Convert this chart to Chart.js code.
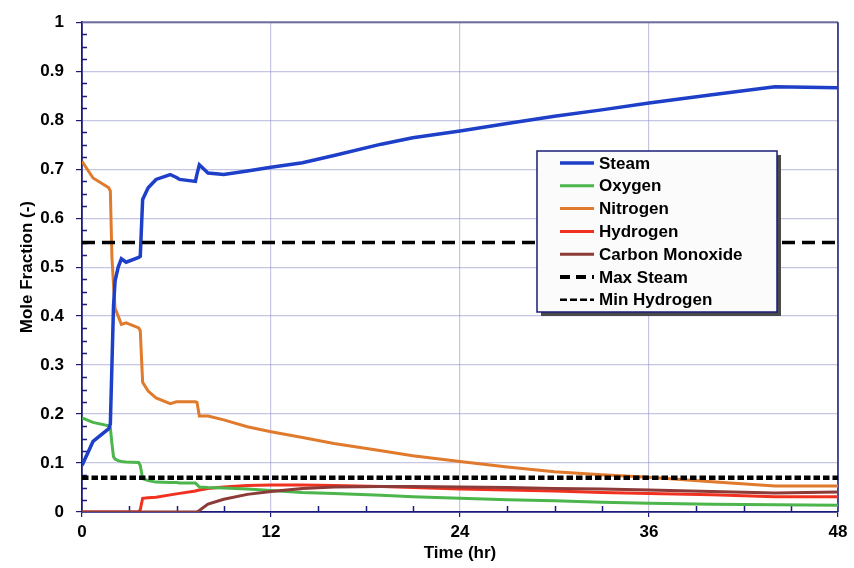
<!DOCTYPE html>
<html>
<head>
<meta charset="utf-8">
<script src="https://cdn.jsdelivr.net/npm/chart.js@4.4.1/dist/chart.umd.min.js"></script>
<style>
  html, body { margin: 0; padding: 0; background: #fff; }
</style>
</head>
<body>
<canvas id="moleChart" width="854" height="568"></canvas>
<script>
// shared time points (hr)
const timeHr = [0, 0.7, 1.7, 1.8, 1.9, 2.0, 2.1, 2.3, 2.5, 2.8, 3.6, 3.7, 3.85, 4.2, 4.7, 5.6, 6.0, 6.2,
  7.2, 7.3, 7.45, 8.0, 9.0, 10.5, 12, 14, 16, 19, 21, 24, 27, 30, 33, 36, 40, 44, 48];

// mole fractions
const steam = [0.095, 0.144, 0.17, 0.18, 0.30, 0.42, 0.472, 0.50, 0.517, 0.510, 0.520, 0.522, 0.638, 0.662, 0.679, 0.689, 0.683, 0.679,
  0.675, 0.69, 0.709, 0.692, 0.689, 0.696, 0.704, 0.713, 0.728, 0.751, 0.764, 0.778, 0.793, 0.808, 0.821, 0.835, 0.852, 0.868, 0.866];
const oxygen = [0.192, 0.183, 0.176, 0.172, 0.14, 0.113, 0.108, 0.105, 0.103, 0.102, 0.101, 0.095, 0.068, 0.064, 0.061, 0.060, 0.060, 0.059,
  0.059, 0.056, 0.051, 0.050, 0.049, 0.047, 0.044, 0.040, 0.038, 0.034, 0.031, 0.028, 0.025, 0.023, 0.020, 0.018, 0.016, 0.015, 0.014];
const nitrogen = [0.716, 0.682, 0.662, 0.655, 0.52, 0.465, 0.416, 0.400, 0.383, 0.386, 0.376, 0.370, 0.265, 0.247, 0.233, 0.221, 0.225, 0.225,
  0.225, 0.224, 0.196, 0.196, 0.188, 0.174, 0.164, 0.152, 0.140, 0.125, 0.115, 0.103, 0.092, 0.082, 0.076, 0.071, 0.062, 0.053, 0.053];
const hydrogen = [0, 0, 0, 0, 0, 0, 0, 0, 0, 0, 0, 0.005, 0.028, 0.029, 0.030, 0.035, 0.037, 0.038,
  0.043, 0.044, 0.045, 0.048, 0.051, 0.054, 0.055, 0.055, 0.054, 0.052, 0.050, 0.047, 0.045, 0.043, 0.040, 0.038, 0.035, 0.031, 0.031];
const carbonMonoxide = [0, 0, 0, 0, 0, 0, 0, 0, 0, 0, 0, 0, 0, 0, 0, 0, 0, 0,
  0, 0, 0.003, 0.016, 0.026, 0.036, 0.042, 0.048, 0.051, 0.052, 0.052, 0.051, 0.050, 0.048, 0.047, 0.045, 0.042, 0.039, 0.041];

// limit lines
const limitTimes = [0, 48];
const maxSteam = 0.55;
const minHydrogen = 0.07;

const toPoints = (vals) => timeHr.map((t, i) => ({ x: t, y: vals[i] }));
const flatLine = (v) => limitTimes.map(t => ({ x: t, y: v }));

const FONT = "'Liberation Sans', Arial, sans-serif";
const NAVY = '#1b1b7a';
const GRID = 'rgba(150, 150, 205, 0.55)';

function gasLine(label, vals, color, width, order) {
  return {
    label: label, data: toPoints(vals), borderColor: color, backgroundColor: color,
    borderWidth: width, pointRadius: 0, tension: 0, fill: false, order: order
  };
}

const datasets = [
  gasLine('Steam', steam, '#1e3fc8', 3.5, 1),
  gasLine('Oxygen', oxygen, '#4cb54c', 3, 4),
  gasLine('Nitrogen', nitrogen, '#e07a2c', 3, 3),
  gasLine('Hydrogen', hydrogen, '#f0311f', 3, 5),
  gasLine('Carbon Monoxide', carbonMonoxide, '#8c3b38', 3, 2),
  { label: 'Max Steam', data: flatLine(maxSteam), borderColor: '#000', borderWidth: 3.5,
    borderDash: [13, 7], pointRadius: 0, order: 0 },
  { label: 'Min Hydrogen', data: flatLine(minHydrogen), borderColor: '#000', borderWidth: 4.5,
    borderDash: [6.5, 3], pointRadius: 0, order: 0 }
];

// minor ticks, frame and the boxed legend
const framePlugin = {
  id: 'frame',
  beforeDatasetsDraw(chart) {
    const { ctx, chartArea: a, scales: { x, y } } = chart;
    ctx.save();
    ctx.strokeStyle = NAVY;
    ctx.lineWidth = 1.5;
    ctx.beginPath();
    for (let t = 3; t < 48; t += 3) {
      if (t % 12 === 0) continue;
      const px = Math.round(x.getPixelForValue(t)) + 0.5;
      ctx.moveTo(px, a.bottom);
      ctx.lineTo(px, a.bottom - 6);
    }
    for (let k = 1; k < 40; k++) {
      if (k % 4 === 0) continue;
      const py = Math.round(y.getPixelForValue(k * 0.025)) + 0.5;
      ctx.moveTo(a.left, py);
      ctx.lineTo(a.left + 5, py);
    }
    ctx.stroke();
    ctx.strokeStyle = '#6e6e9c';
    ctx.lineWidth = 2;
    ctx.beginPath();
    ctx.moveTo(a.left, a.top);
    ctx.lineTo(a.right, a.top);
    ctx.stroke();
    ctx.strokeStyle = NAVY;
    ctx.lineWidth = 1.5;
    ctx.beginPath();
    ctx.moveTo(a.right, a.top);
    ctx.lineTo(a.right, a.bottom);
    ctx.stroke();
    ctx.restore();
  },
  afterDraw(chart) {
    const { ctx } = chart;
    const bx = 537, by = 151, bw = 240, bh = 161;
    ctx.save();
    ctx.fillStyle = '#4a4a4a';
    ctx.fillRect(bx + 4, by + 4, bw, bh);
    ctx.fillStyle = '#fbfbfb';
    ctx.fillRect(bx, by, bw, bh);
    ctx.strokeStyle = NAVY;
    ctx.lineWidth = 1.5;
    ctx.strokeRect(bx, by, bw, bh);
    ctx.font = 'bold 17px ' + FONT;
    ctx.textBaseline = 'middle';
    ctx.fillStyle = '#000';
    chart.data.datasets.forEach((ds, i) => {
      const ry = by + 12 + i * 22.8;
      ctx.strokeStyle = ds.borderColor;
      ctx.lineWidth = ds.borderDash ? (i === 5 ? 4 : 2.5) : ds.borderWidth;
      ctx.setLineDash(ds.borderDash ? (i === 5 ? [10, 6] : [7, 3]) : []);
      ctx.beginPath();
      ctx.moveTo(560, ry);
      ctx.lineTo(594, ry);
      ctx.stroke();
      ctx.setLineDash([]);
      ctx.fillText(ds.label, 599, ry + 1);
    });
    ctx.restore();
  }
};

const tickFont = { family: FONT, size: 17, weight: 'bold' };

new Chart(document.getElementById('moleChart'), {
  type: 'line',
  data: { datasets: datasets },
  plugins: [framePlugin],
  options: {
    responsive: false,
    animation: false,
    layout: { padding: { top: 18, right: 16, left: 0, bottom: 0 } },
    plugins: { legend: { display: false }, tooltip: { enabled: false } },
    scales: {
      x: {
        type: 'linear', min: 0, max: 48,
        afterFit: (s) => { s.height = 56; },
        ticks: { stepSize: 12, color: '#000', padding: 5, font: tickFont },
        grid: { color: GRID, lineWidth: 1.2, tickColor: NAVY, tickLength: 5 },
        border: { color: NAVY, width: 1.8 },
        title: { display: true, text: 'Time (hr)', color: '#000', padding: { top: 0, bottom: 4 }, font: tickFont }
      },
      y: {
        min: 0, max: 1,
        afterFit: (s) => { s.width = 82; },
        ticks: { stepSize: 0.1, color: '#000', padding: 12, font: tickFont,
          callback: (v) => String(Number(v.toFixed(1))) },
        grid: { color: GRID, lineWidth: 1.2, tickColor: NAVY, tickLength: 6 },
        border: { color: NAVY, width: 1.8 },
        title: { display: true, text: 'Mole Fraction (-)', color: '#000', padding: { top: 17, bottom: 0 }, font: tickFont }
      }
    }
  }
});
</script>
</body>
</html>
